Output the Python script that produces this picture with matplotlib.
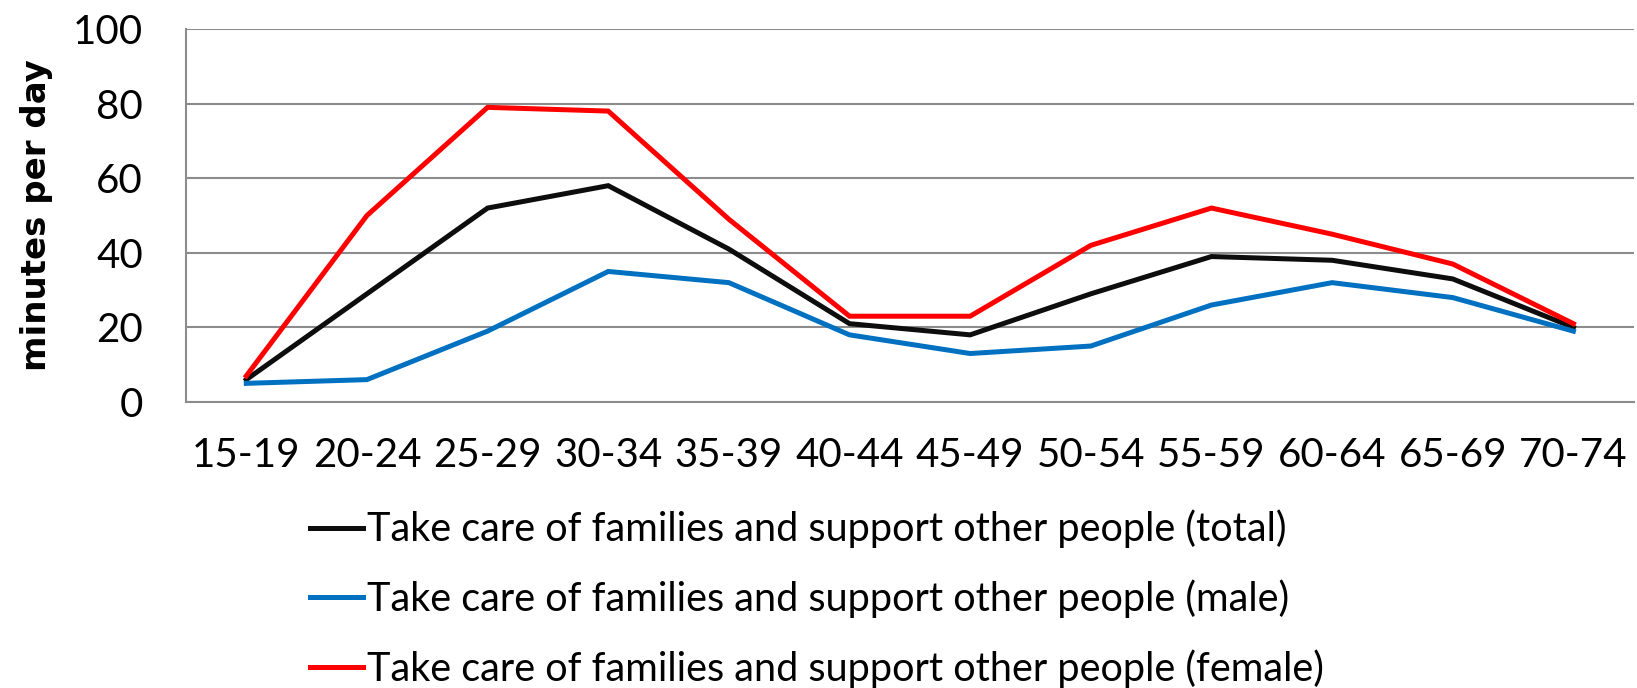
import matplotlib
matplotlib.use('Agg')
import matplotlib.pyplot as plt

# Age groups and minutes per day spent caring for family / supporting others
age_groups = ['15-19', '20-24', '25-29', '30-34', '35-39', '40-44',
              '45-49', '50-54', '55-59', '60-64', '65-69', '70-74']
total = [6, 29, 52, 58, 41, 21, 18, 29, 39, 38, 33, 20]
male = [5, 6, 19, 35, 32, 18, 13, 15, 26, 32, 28, 19]
female = [7, 50, 79, 78, 49, 23, 23, 42, 52, 45, 37, 21]

labels = ['Take care of families and support other people (total)',
          'Take care of families and support other people (male)',
          'Take care of families and support other people (female)']
colors = ['#0d0d0d', '#0070c0', '#ff0000']

plt.rcParams['font.family'] = ['Lato', 'DejaVu Sans']

fig = plt.figure(figsize=(16.37, 6.88), dpi=100)
ax = fig.add_axes([0.1136, 0.4157, 0.8844, 0.5421])

x = list(range(len(age_groups)))
for series, label, color in zip([total, male, female], labels, colors):
    ax.plot(x, series, color=color, linewidth=3.6, label=label,
            solid_joinstyle='miter')

ax.set_xlim(-0.5, len(age_groups) - 0.5)
ax.set_ylim(0, 100)
ax.set_yticks(range(0, 101, 20))
ax.set_xticks(x)
ax.set_xticklabels(age_groups)
ax.tick_params(axis='both', length=0, labelsize=29)
ax.tick_params(axis='x', pad=25)
ax.tick_params(axis='y', pad=31)

ax.grid(axis='y', color='#8c8c8c', linewidth=1.5)
ax.set_axisbelow(True)
for side in ['top', 'right']:
    ax.spines[side].set_visible(False)
for side in ['left', 'bottom']:
    ax.spines[side].set_color('#8c8c8c')
    ax.spines[side].set_linewidth(1.5)

ax.set_ylabel('minutes per day', fontsize=24.5, fontweight='bold',
              family='DejaVu Sans')
ax.yaxis.set_label_coords(-0.092, 0.5)

fig.legend(loc='upper left', bbox_to_anchor=(0.180, 0.282), frameon=False,
           fontsize=28.5, handlelength=1.33, handletextpad=0.1,
           labelspacing=0.78, borderaxespad=0)

fig.savefig('out.png', dpi=100)
